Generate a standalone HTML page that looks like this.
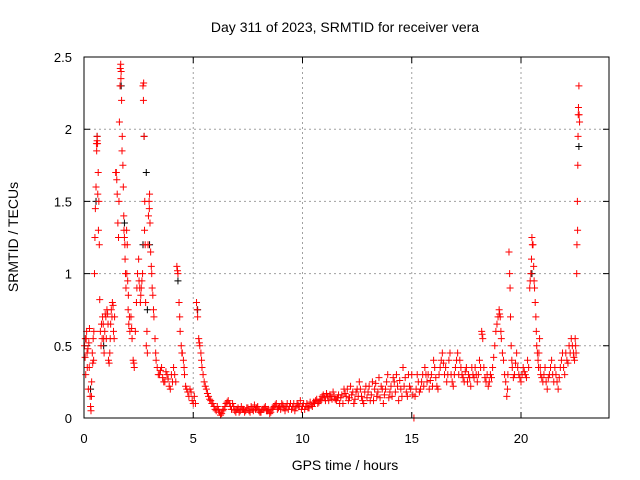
<!DOCTYPE html>
<html><head><meta charset="utf-8"><style>
body{margin:0;background:#fff}
svg{display:block;font-family:"Liberation Sans",sans-serif}
</style></head><body>
<svg id="chart" width="640" height="480">
<text x="345" y="32" text-anchor="middle" font-size="14">Day 311 of 2023, SRMTID for receiver vera</text>
<text x="345" y="470" text-anchor="middle" font-size="14">GPS time / hours</text>
<text x="18" y="237" text-anchor="middle" font-size="14" transform="rotate(-90 18 237)">SRMTID / TECUs</text>
<g id="grid"></g>
<g id="ticks"></g>
<g id="black"></g>
<g id="red"></g>
<rect x="84" y="57" width="525" height="361" fill="none" stroke="#000" stroke-width="1"/>
</svg>
<script>
const xTicks=[0,5,10,15,20];
const xTickLabels=["0","5","10","15","20"];
const yTicks=[0,0.5,1,1.5,2,2.5];
const yTickLabels=["0","0.5","1","1.5","2","2.5"];
const redSeries=[[0.02,.5],[0.05,.42],[0.08,.3],[0.1,.55],[0.12,.6],[0.15,.35],[0.18,.48],[0.2,.2],[0.22,.52],[0.25,.62],[0.28,.15],[0.3,.08],[0.32,.05],[0.35,.25],[0.38,.45],[0.4,.38],[0.42,.55],[0.45,.6],[0.48,1.0],[0.5,1.25],[0.52,1.45],[0.55,1.6],[0.58,1.85],[0.6,1.95],[0.62,1.9],[0.65,1.7],[0.68,1.5],[0.7,1.2],[0.72,.82],[0.75,.6],[0.78,.5],[0.8,.65],[0.85,.7],[0.9,.55],[0.92,.45],[0.95,.6],[1.0,.7],[1.05,.75],[1.1,.65],[1.12,.4],[1.15,.38],[1.2,.55],[1.25,.75],[1.3,.8],[1.35,.6],[1.4,.7],[1.45,1.7],[1.5,1.65],[1.52,1.55],[1.55,1.35],[1.58,1.25],[1.6,1.5],[1.62,2.05],[1.65,2.3],[1.68,2.45],[1.7,2.4],[1.72,2.2],[1.75,1.95],[1.78,1.75],[1.8,1.6],[1.82,1.4],[1.85,1.25],[1.88,1.1],[1.9,1.0],[1.92,.9],[1.95,1.3],[1.98,1.2],[2.0,.95],[2.02,.75],[2.05,.65],[2.1,.6],[2.15,.7],[2.2,.55],[2.25,.4],[2.3,.35],[2.35,.6],[2.4,.8],[2.45,1.0],[2.5,1.1],[2.55,.9],[2.6,.85],[2.65,.95],[2.7,2.3],[2.72,2.2],[2.75,1.95],[2.78,1.5],[2.8,1.2],[2.82,.8],[2.85,.5],[2.9,.45],[2.95,1.4],[2.98,1.5],[3.0,1.55],[3.02,1.35],[3.05,1.15],[3.1,1.0],[3.15,.85],[3.2,.7],[3.25,.55],[3.3,.4],[3.35,.35],[3.4,.3],[3.5,.33],[3.6,.28],[3.7,.25],[3.8,.3],[3.9,.22],[4.0,.3],[4.1,.35],[4.2,.25],[4.25,1.05],[4.3,1.0],[4.35,.8],[4.4,.6],[4.45,.5],[4.5,.45],[4.55,.4],[4.6,.3],[4.65,.22],[4.75,.18],[4.85,.2],[4.95,.12],[5.05,.15],[5.1,.1],[5.15,.8],[5.2,.7],[5.25,.55],[5.3,.5],[5.35,.45],[5.4,.35],[5.5,.25],[5.6,.2],[5.7,.15],[5.8,.12],[5.9,.1],[6.0,.06],[6.1,.08],[6.2,.04],[6.3,.03],[6.4,.06],[6.5,.1],[6.6,.12],[6.7,.08],[6.8,.1],[6.9,.05],[7.0,.06],[7.1,.04],[7.2,.08],[7.3,.06],[7.4,.05],[7.5,.07],[7.6,.04],[7.7,.06],[7.8,.09],[7.9,.07],[8.0,.05],[8.1,.04],[8.2,.06],[8.3,.08],[8.4,.05],[8.5,.03],[8.6,.06],[8.7,.08],[8.8,.1],[8.9,.07],[9.0,.06],[9.1,.09],[9.2,.05],[9.3,.1],[9.4,.08],[9.5,.06],[9.6,.1],[9.7,.07],[9.8,.09],[9.9,.12],[10.0,.08],[10.1,.06],[10.2,.1],[10.3,.07],[10.4,.09],[10.5,.11],[10.6,.12],[10.7,.1],[10.8,.13],[10.9,.15],[11.0,.14],[11.1,.17],[11.2,.12],[11.3,.15],[11.4,.18],[11.5,.13],[11.6,.14],[11.7,.1],[11.8,.16],[11.9,.2],[12.0,.15],[12.1,.12],[12.2,.22],[12.3,.18],[12.4,.13],[12.5,.2],[12.6,.25],[12.7,.15],[12.8,.1],[12.9,.22],[13.0,.18],[13.1,.12],[13.2,.25],[13.3,.2],[13.4,.15],[13.5,.28],[13.6,.22],[13.7,.1],[13.8,.2],[13.9,.3],[14.0,.18],[14.1,.15],[14.2,.25],[14.3,.3],[14.4,.12],[14.5,.2],[14.6,.35],[14.7,.28],[14.8,.15],[14.9,.22],[15.0,.3],[15.1,0.0],[15.15,.15],[15.3,.25],[15.4,.2],[15.5,.3],[15.6,.35],[15.7,.25],[15.8,.2],[15.9,.3],[16.0,.4],[16.1,.28],[16.2,.2],[16.3,.35],[16.4,.45],[16.5,.3],[16.6,.25],[16.7,.4],[16.8,.3],[16.9,.22],[17.0,.35],[17.1,.45],[17.2,.4],[17.3,.3],[17.4,.25],[17.5,.35],[17.6,.3],[17.7,.22],[17.8,.3],[17.9,.35],[18.0,.25],[18.1,.4],[18.2,.6],[18.25,.55],[18.3,.35],[18.4,.25],[18.5,.22],[18.6,.3],[18.7,.35],[18.8,.5],[18.9,.65],[19.0,.75],[19.05,.7],[19.1,.55],[19.2,.4],[19.3,.25],[19.35,.15],[19.4,.3],[19.45,1.15],[19.5,.9],[19.55,.5],[19.6,.35],[19.7,.3],[19.8,.45],[19.9,.3],[20.0,.25],[20.1,.35],[20.2,.3],[20.3,.4],[20.4,.9],[20.45,1.0],[20.5,1.25],[20.55,1.2],[20.6,.95],[20.65,.8],[20.7,.6],[20.75,.45],[20.8,.35],[20.85,.55],[20.9,.3],[21.0,.25],[21.1,.35],[21.2,.2],[21.3,.3],[21.4,.4],[21.5,.25],[21.6,.3],[21.7,.2],[21.8,.35],[21.9,.45],[22.0,.3],[22.1,.4],[22.2,.5],[22.3,.55],[22.4,.45],[22.45,.4],[22.5,.5],[22.55,1.0],[22.58,1.5],[22.6,1.75],[22.62,2.1],[22.65,2.3],[22.68,2.05]];
const redSeriesExtra=[[0.06,.55],[0.14,.45],[0.24,.35],[0.34,.15],[0.44,.4],[0.57,1.9],[0.6,1.92],[0.63,1.55],[0.66,1.3],[0.83,.55],[0.88,.65],[0.97,.72],[1.02,.55],[1.08,.72],[1.18,.45],[1.22,.65],[1.28,.7],[1.33,.78],[1.38,.55],[1.48,1.7],[1.66,2.42],[1.69,2.35],[1.74,1.85],[1.83,1.3],[1.87,1.2],[1.96,1.0],[2.03,.85],[2.08,.7],[2.18,.62],[2.28,.38],[2.42,.9],[2.52,.95],[2.58,.8],[2.62,.9],[2.68,1.0],[2.73,2.32],[2.77,1.3],[2.88,.6],[2.93,1.2],[2.99,1.45],[3.08,1.05],[3.12,.9],[3.18,.75],[3.28,.45],[3.45,.3],[3.55,.35],[3.65,.25],[3.75,.32],[3.85,.27],[3.95,.2],[4.05,.25],[4.15,.3],[4.28,1.02],[4.38,.7],[4.48,.45],[4.58,.35],[4.7,.2],[4.8,.15],[4.9,.18],[5.0,.1],[5.18,.75],[5.28,.52],[5.38,.4],[5.45,.3],[5.55,.22],[5.65,.17],[5.75,.13],[5.85,.1],[5.95,.08],[6.05,.05],[6.15,.06],[6.25,.02],[6.35,.05],[6.45,.08],[6.55,.11],[6.65,.1],[6.75,.06],[6.85,.08],[6.95,.04],[7.05,.07],[7.15,.05],[7.25,.06],[7.35,.04],[7.45,.07],[7.55,.05],[7.65,.08],[7.75,.05],[7.85,.06],[7.95,.08],[8.05,.04],[8.15,.06],[8.25,.07],[8.35,.05],[8.45,.06],[8.55,.04],[8.65,.07],[8.75,.09],[8.85,.06],[8.95,.08],[9.05,.1],[9.15,.07],[9.25,.08],[9.35,.06],[9.45,.1],[9.55,.08],[9.65,.05],[9.75,.1],[9.85,.08],[9.95,.06],[10.05,.1],[10.15,.08],[10.25,.07],[10.35,.11],[10.45,.08],[10.55,.1],[10.65,.13],[10.75,.11],[10.85,.12],[10.95,.16],[11.05,.12],[11.15,.15],[11.25,.16],[11.35,.13],[11.45,.15],[11.55,.12],[11.65,.16],[11.75,.14],[11.85,.1],[11.95,.17],[12.05,.2],[12.15,.14],[12.25,.16],[12.35,.1],[12.45,.18],[12.55,.15],[12.65,.2],[12.75,.12],[12.85,.18],[12.95,.14],[13.05,.22],[13.15,.16],[13.25,.12],[13.35,.24],[13.45,.18],[13.55,.14],[13.65,.2],[13.75,.16],[13.85,.25],[13.95,.14],[14.05,.22],[14.15,.28],[14.25,.18],[14.35,.22],[14.45,.26],[14.55,.15],[14.65,.22],[14.75,.18],[14.85,.3],[14.95,.2],[15.05,.16],[15.2,.2],[15.25,.3],[15.35,.18],[15.45,.25],[15.55,.22],[15.65,.3],[15.75,.3],[15.85,.26],[15.95,.22],[16.05,.35],[16.15,.22],[16.25,.3],[16.35,.4],[16.45,.38],[16.55,.35],[16.65,.3],[16.75,.45],[16.85,.25],[16.95,.3],[17.05,.4],[17.15,.3],[17.25,.35],[17.35,.28],[17.45,.32],[17.55,.25],[17.65,.28],[17.75,.35],[17.85,.28],[17.95,.3],[18.05,.3],[18.15,.35],[18.22,.58],[18.35,.28],[18.45,.3],[18.55,.25],[18.65,.28],[18.75,.42],[18.85,.6],[18.95,.7],[19.02,.72],[19.08,.6],[19.15,.45],[19.25,.3],[19.38,.2],[19.48,1.0],[19.52,.7],[19.58,.4],[19.65,.28],[19.75,.38],[19.85,.35],[19.95,.28],[20.05,.3],[20.15,.32],[20.25,.28],[20.35,.35],[20.42,.95],[20.48,1.1],[20.52,1.2],[20.58,1.05],[20.62,.9],[20.68,.7],[20.72,.5],[20.78,.4],[20.82,.45],[20.88,.35],[20.95,.28],[21.05,.3],[21.15,.25],[21.25,.28],[21.35,.35],[21.45,.3],[21.55,.35],[21.65,.25],[21.75,.28],[21.85,.4],[21.95,.35],[22.05,.45],[22.15,.38],[22.25,.45],[22.35,.5],[22.42,.42],[22.48,.55],[22.52,.45],[22.56,1.2],[22.59,1.3],[22.61,1.95],[22.63,2.15],[22.66,2.1]];
const blackSeries=[[0.3,.2],[0.55,1.5],[0.6,1.95],[0.9,.5],[1.7,2.3],[1.85,1.35],[2.7,1.2],[2.75,1.95],[2.85,1.7],[2.9,.75],[3.0,1.2],[4.3,.95],[5.2,.75],[20.5,1.0],[22.65,1.88]];
const NS="http://www.w3.org/2000/svg";
const X=t=>84+t*21.85;
const Y=v=>418-v*144.4;
function mk(tag,attrs,parent){const e=document.createElementNS(NS,tag);for(const k in attrs)e.setAttribute(k,attrs[k]);parent.appendChild(e);return e;}
const grid=document.getElementById('grid'),ticks=document.getElementById('ticks');
xTicks.forEach((t,i)=>{
  const x=X(t);
  if(t>0){const g=mk('line',{x1:x,y1:57,x2:x,y2:418,stroke:'#a0a0a0','stroke-dasharray':'2,3'},grid);
  
  }
  const tk=mk('path',{d:`M${x},418v-6M${x},57v6`,stroke:'#000'},ticks);
  
  
  const l=mk('text',{x:x,y:443,'text-anchor':'middle','font-size':'13'},ticks);l.textContent=xTickLabels[i];
  
  
});
yTicks.forEach((v,i)=>{
  const y=Y(v);
  if(v>0&&v<2.5){const g=mk('line',{x1:84,y1:y,x2:609,y2:y,stroke:'#a0a0a0','stroke-dasharray':'2,3'},grid);
  
  }
  const tk=mk('path',{d:`M84,${y}h6M609,${y}h-6`,stroke:'#000'},ticks);
  
  
  const l=mk('text',{x:72,y:y+5,'text-anchor':'end','font-size':'13'},ticks);l.textContent=yTickLabels[i];
  
  
});
function plot(series,color,gid){
  const g=document.getElementById(gid);
  series.forEach(p=>{
    const x=X(p[0]),y=Y(p[1]);
    const m=mk('path',{d:`M${x-3.5},${y}h7M${x},${y-3.5}v7`,stroke:color,'stroke-width':'1'},g);
    
    
  });
}
plot(blackSeries,'#000','black');
plot(redSeries,'#ff0000','red');
plot(redSeriesExtra,'#ff0000','red');
</script>
</body></html>
